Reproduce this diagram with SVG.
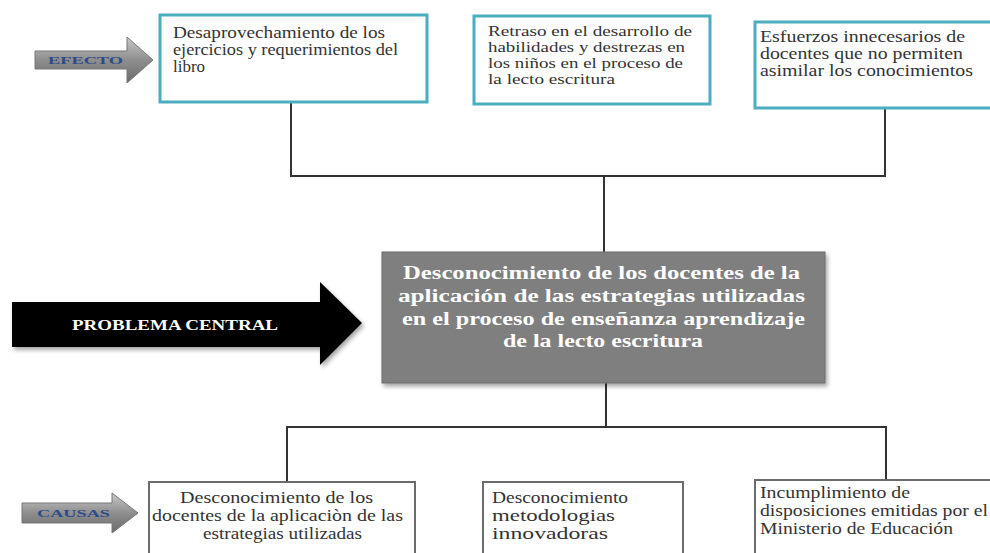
<svg xmlns="http://www.w3.org/2000/svg" width="990" height="553" viewBox="0 0 990 553">
<defs>
<linearGradient id="gArrow" x1="0" y1="0" x2="0" y2="1">
<stop offset="0" stop-color="#c8c8c8"/>
<stop offset="0.5" stop-color="#8e8e8e"/>
<stop offset="1" stop-color="#6a6a6a"/>
</linearGradient>
<filter id="sh" x="-10%" y="-10%" width="120%" height="130%">
<feDropShadow dx="2" dy="3" stdDeviation="2" flood-color="#000" flood-opacity="0.35"/>
</filter>
</defs>
<style>
.eff{fill:#fff;stroke:#4aaebf;stroke-width:3}
.cau{fill:#fff;stroke:#6b6b6b;stroke-width:2}
.t{font-family:"Liberation Serif",serif;font-size:16px;fill:#333}
.t2{font-family:"Liberation Serif",serif;font-size:14.5px;fill:#333}
.c{stroke:#333;stroke-width:2;fill:none}
.lab{font-family:"Liberation Serif",serif;font-weight:bold;font-size:11px;fill:#2d4b8c}
.ct{font-family:"Liberation Serif",serif;font-weight:bold;font-size:18.5px;fill:#fff}
</style>
<rect width="990" height="553" fill="#fff"/>
<g id="connectors">
<path class="c" d="M291 102 V176 H885 V108"/>
<path class="c" d="M604 176 V252"/>
<path class="c" d="M606 383 V427"/>
<path class="c" d="M287 481 V427 H886 V479"/>
</g>
<g id="efecto-arrow">
<path d="M35 51 H127 V37 L153 60 L127 83 V69 H35 Z" fill="url(#gArrow)" stroke="#777" stroke-width="1"/>
<text class="lab" x="48" y="64" textLength="75" lengthAdjust="spacingAndGlyphs">EFECTO</text>
</g>
<g id="efecto1">
<rect class="eff" x="160" y="15" width="267" height="87"/>
<text class="t" x="173" y="38" textLength="212" lengthAdjust="spacingAndGlyphs">Desaprovechamiento de los</text>
<text class="t" x="173" y="55" textLength="225" lengthAdjust="spacingAndGlyphs">ejercicios  y requerimientos del</text>
<text class="t" x="173" y="72" textLength="32" lengthAdjust="spacingAndGlyphs">libro</text>
</g>
<g id="efecto2">
<rect class="eff" x="474" y="16" width="236" height="88"/>
<text class="t2" x="488" y="36" textLength="204" lengthAdjust="spacingAndGlyphs">Retraso en el desarrollo de</text>
<text class="t2" x="488" y="52" textLength="197" lengthAdjust="spacingAndGlyphs">habilidades y destrezas en</text>
<text class="t2" x="488" y="68" textLength="195" lengthAdjust="spacingAndGlyphs">los niños en el proceso de</text>
<text class="t2" x="488" y="84" textLength="127" lengthAdjust="spacingAndGlyphs">la lecto escritura</text>
</g>
<g id="efecto3">
<rect class="eff" x="755" y="22" width="245" height="86"/>
<text class="t" x="760" y="42" textLength="205" lengthAdjust="spacingAndGlyphs">Esfuerzos innecesarios de</text>
<text class="t" x="760" y="59" textLength="203" lengthAdjust="spacingAndGlyphs">docentes que no permiten</text>
<text class="t" x="760" y="76" textLength="213" lengthAdjust="spacingAndGlyphs">asimilar  los conocimientos</text>
</g>
<g id="problema-arrow">
<path d="M12 302 H320 V282 L362 323 L320 365 V347 H12 Z" fill="#000" filter="url(#sh)"/>
<text x="72" y="330" font-family="Liberation Serif, serif" font-weight="bold" font-size="14" fill="#fff" textLength="206" lengthAdjust="spacingAndGlyphs">PROBLEMA CENTRAL</text>
</g>
<g id="central">
<rect x="382" y="252" width="443" height="131" fill="#7f7f7f" stroke="#6a6a6a" stroke-width="1" filter="url(#sh)"/>
<text class="ct" x="403" y="279" textLength="397" lengthAdjust="spacingAndGlyphs">Desconocimiento  de los docentes de la</text>
<text class="ct" x="398" y="302" textLength="407" lengthAdjust="spacingAndGlyphs">aplicación de  las estrategias  utilizadas</text>
<text class="ct" x="402" y="325" textLength="403" lengthAdjust="spacingAndGlyphs">en el proceso de enseñanza aprendizaje</text>
<text class="ct" x="503" y="347" textLength="200" lengthAdjust="spacingAndGlyphs">de la lecto escritura</text>
</g>
<g id="causas-arrow">
<path d="M22 503 H112 V493 L138 513 L112 533 V523 H22 Z" fill="url(#gArrow)" stroke="#777" stroke-width="1"/>
<text class="lab" x="37" y="517" textLength="73" lengthAdjust="spacingAndGlyphs">CAUSAS</text>
</g>
<g id="causa1">
<rect class="cau" x="149" y="482" width="266" height="80"/>
<text class="t" x="180" y="503" textLength="193" lengthAdjust="spacingAndGlyphs">Desconocimiento de los</text>
<text class="t" x="152" y="521" textLength="251" lengthAdjust="spacingAndGlyphs">docentes de la aplicaciòn de las</text>
<text class="t" x="203" y="539" textLength="159" lengthAdjust="spacingAndGlyphs">estrategias utilizadas</text>
</g>
<g id="causa2">
<rect class="cau" x="483" y="482" width="200" height="80"/>
<text class="t" x="492" y="503" textLength="136" lengthAdjust="spacingAndGlyphs">Desconocimiento</text>
<text class="t" x="492" y="521" textLength="123" lengthAdjust="spacingAndGlyphs">metodologias</text>
<text class="t" x="492" y="539" textLength="116" lengthAdjust="spacingAndGlyphs">innovadoras</text>
</g>
<g id="causa3">
<rect class="cau" x="755" y="480" width="245" height="82"/>
<text class="t" x="760" y="498" textLength="150" lengthAdjust="spacingAndGlyphs">Incumplimiento de</text>
<text class="t" x="760" y="516" textLength="228" lengthAdjust="spacingAndGlyphs">disposiciones emitidas por el</text>
<text class="t" x="760" y="534" textLength="193" lengthAdjust="spacingAndGlyphs">Ministerio de Educación</text>
</g>
</svg>
